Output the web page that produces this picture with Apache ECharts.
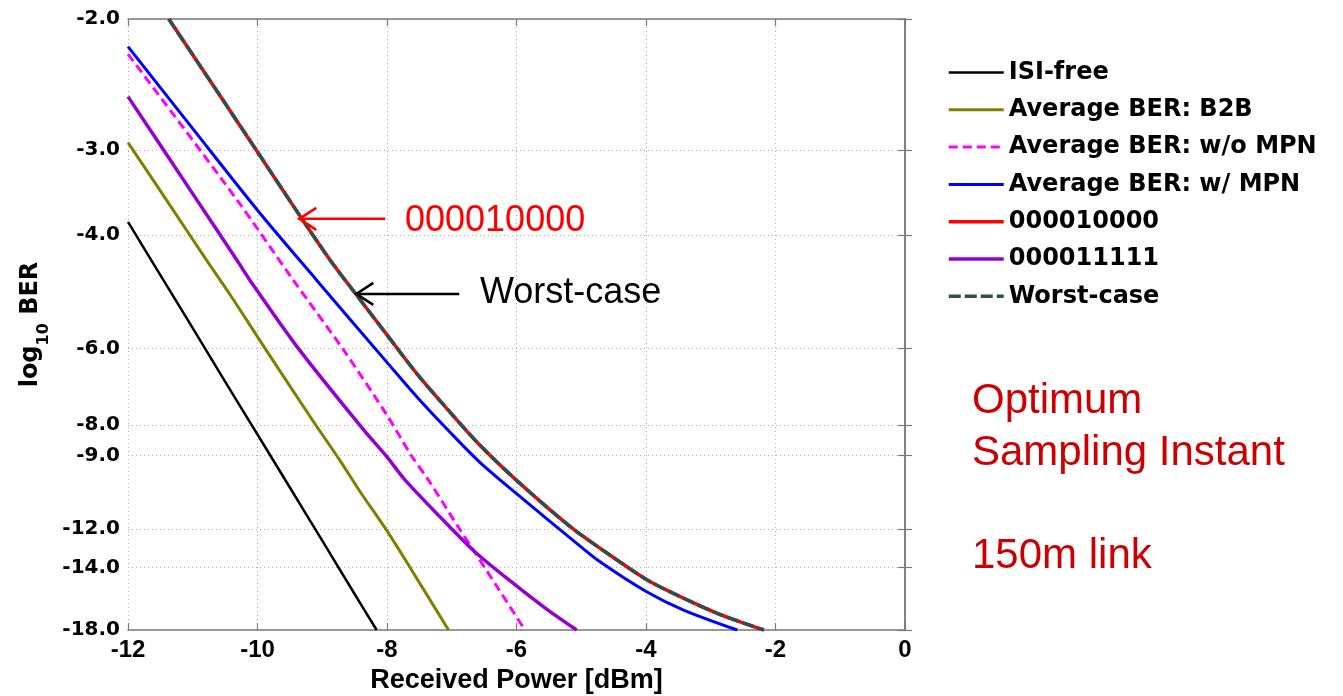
<!DOCTYPE html>
<html>
<head>
<meta charset="utf-8">
<script src="https://cdn.jsdelivr.net/npm/echarts@6.0.0/dist/echarts.min.js"></script>
<style>
html, body { margin: 0; padding: 0; background: #ffffff; }
#chart { width: 1343px; height: 696px; }
</style>
</head>
<body>
<div id="chart"></div>
<script>
// ---------------- data (x: received power in dBm, y: log10 BER) ----------------
const xMin = -12, xMax = 0, xStep = 2;
const yTickValues = [-2, -3, -4, -6, -8, -9, -12, -14, -18];
const yTickLabels = ['-2.0', '-3.0', '-4.0', '-6.0', '-8.0', '-9.0', '-12.0', '-14.0', '-18.0'];

const seriesNames = ['ISI-free', 'Average BER: B2B', 'Average BER: w/o MPN', 'Average BER: w/ MPN',
                     '000010000', '000011111', 'Worst-case'];

const isiFree = [[-12, -3.82], [-11.5, -4.60], [-11, -5.57], [-10.5, -6.79], [-10, -8.30],
                 [-9.5, -10.19], [-9, -12.57], [-8.5, -15.56], [-8.16, -18]];

const avgB2B = [[-12, -2.93], [-11.41, -3.54], [-10.79, -4.36], [-10.42, -4.94], [-10.0, -5.75],
                [-9.15, -7.86], [-8.73, -9.16], [-8.42, -10.34], [-8.0, -12.09], [-7.63, -14.07], [-7.05, -18]];

const avgWoMPN = [[-12, -2.22], [-10.32, -3.54], [-9.47, -4.65], [-8.65, -6.08], [-8.0, -7.71],
                  [-7.63, -8.98], [-7.36, -9.90], [-6.89, -11.95], [-6.65, -13.13], [-6.30, -15.11], [-5.87, -18]];

const avgWMPN = [[-12, -2.17], [-11, -2.80], [-10, -3.67], [-9.09, -4.68], [-8.0, -6.32], [-7.52, -7.23],
                 [-7.03, -8.22], [-6.57, -9.23], [-5.99, -10.46], [-5.07, -12.70], [-4.71, -13.67],
                 [-3.99, -15.42], [-3.42, -16.6], [-2.59, -18]];

const pattern000010000 = [[-11.37, -2.0], [-10.0, -3.02], [-9.37, -3.71], [-8.88, -4.36], [-8.47, -4.94],
                          [-8.0, -5.71], [-7.54, -6.59], [-7.18, -7.30], [-6.59, -8.59], [-5.99, -9.93],
                          [-5.17, -11.89], [-4.71, -12.95], [-3.98, -14.71], [-3.52, -15.63], [-2.90, -16.82], [-2.18, -18]];

const pattern000011111 = [[-12, -2.53], [-10.94, -3.54], [-10.32, -4.36], [-10.12, -4.68], [-9.37, -6.0],
                          [-8.37, -8.13], [-8.0, -9.05], [-7.72, -9.90], [-7.03, -11.90], [-6.61, -13.24],
                          [-6.0, -15.06], [-5.53, -16.55], [-5.07, -18]];

const worstCase = [[-11.37, -2.0], [-10.0, -3.02], [-9.37, -3.71], [-8.88, -4.36], [-8.47, -4.94],
                   [-8.0, -5.71], [-7.54, -6.59], [-7.18, -7.30], [-6.59, -8.59], [-5.99, -9.93],
                   [-5.17, -11.89], [-4.71, -12.95], [-3.98, -14.71], [-3.52, -15.63], [-2.90, -16.82], [-2.18, -18]];

const annotationLabels = ['000010000', 'Worst-case'];
const annotationTips = [[-9.37, -3.78], [-8.49, -4.92]];
const sideNoteLines = ['Optimum', 'Sampling Instant', '150m link'];

// ---------------- BER axis scale: 20*log10(Q), Q from BER ----------------
function lnErfc(z) {
  const t = 1 / (1 + 0.5 * z);
  const p = -z * z - 1.26551223 + t * (1.00002368 + t * (0.37409196 + t * (0.09678418 +
            t * (-0.18628806 + t * (0.27886807 + t * (-1.13520398 + t * (1.48851587 +
            t * (-0.82215223 + t * 0.17087277))))))));
  return Math.log(t) + p;
}
function log10BerFromQ(q) {
  return (Math.log(0.5) + lnErfc(q / Math.SQRT2)) / Math.LN10;
}
function qScale(log10Ber) {
  let lo = 0, hi = 20;
  for (let i = 0; i < 80; i++) {
    const mid = (lo + hi) / 2;
    if (log10BerFromQ(mid) > log10Ber) lo = mid; else hi = mid;
  }
  return 20 * Math.log10((lo + hi) / 2);
}
const yTickPos = yTickValues.map(qScale);
const yMinPos = yTickPos[0];
const yMaxPos = yTickPos[yTickPos.length - 1];
function yLabel(v) {
  let best = 0;
  for (let i = 1; i < yTickPos.length; i++) {
    if (Math.abs(yTickPos[i] - v) < Math.abs(yTickPos[best] - v)) best = i;
  }
  return yTickLabels[best];
}
const toXY = arr => arr.map(p => [p[0], qScale(p[1])]);

// ---------------- chart ----------------
const boxColor = '#7a7a7a';
const gridColor = '#b0b0b0';
const boldWide = 'DejaVu Sans';
const arial = 'Liberation Sans, Arial, sans-serif';

function mirrorY(position) {
  return {
    type: 'value', position: position, min: yMinPos, max: yMaxPos, inverse: true,
    axisLine: { show: true, lineStyle: { color: boxColor, width: 1.5 } },
    axisTick: { show: true, inside: true, length: 7, customValues: yTickPos, lineStyle: { color: boxColor, width: 1.2 } },
    axisLabel: position === 'left' ? {
      show: true, customValues: yTickPos, formatter: yLabel, margin: 8,
      fontFamily: boldWide, fontWeight: 'bold', fontSize: 20, color: '#000'
    } : { show: false },
    splitLine: position === 'left' ? { show: true, lineStyle: { color: gridColor, width: 1, type: [1, 3] } } : { show: false }
  };
}
function mirrorX(position) {
  return {
    type: 'value', position: position, min: xMin, max: xMax, interval: xStep,
    axisLine: { show: true, onZero: false, lineStyle: { color: boxColor, width: 1.5 } },
    axisTick: { show: true, inside: true, length: 7, lineStyle: { color: boxColor, width: 1.2 } },
    axisLabel: position === 'bottom' ? {
      show: true, margin: 8, fontFamily: arial, fontWeight: 'bold', fontSize: 24, color: '#000'
    } : { show: false },
    splitLine: position === 'bottom' ? { show: true, lineStyle: { color: gridColor, width: 1, type: [1, 3] } } : { show: false }
  };
}

const xBottom = mirrorX('bottom');
xBottom.name = 'Received Power [dBm]';
xBottom.nameLocation = 'middle';
xBottom.nameGap = 36;
xBottom.nameTextStyle = { fontFamily: arial, fontWeight: 'bold', fontSize: 27, color: '#000' };

const yLeft = mirrorY('left');
yLeft.name = '{a|log}{s|10}{a| BER}';
yLeft.nameLocation = 'middle';
yLeft.nameRotate = 90;
yLeft.nameGap = 78;
yLeft.nameTextStyle = {
  rich: {
    a: { fontFamily: boldWide, fontWeight: 'bold', fontSize: 24, color: '#000', lineHeight: 24, verticalAlign: 'top' },
    s: { fontFamily: boldWide, fontWeight: 'bold', fontSize: 16, color: '#000', lineHeight: 16, verticalAlign: 'top', padding: [17, 0, 0, 0] }
  }
};

const seriesData = [isiFree, avgB2B, avgWoMPN, avgWMPN, pattern000010000, pattern000011111, worstCase];
const seriesStyles = [
  { color: '#000000', width: 2.5, type: 'solid' },
  { color: '#808000', width: 3, type: 'solid' },
  { color: '#FF00FF', width: 3, type: [9, 5] },
  { color: '#0000FF', width: 3, type: 'solid' },
  { color: '#FF0000', width: 3.5, type: 'solid' },
  { color: '#9400D3', width: 3.5, type: 'solid' },
  { color: '#2F4F4F', width: 3.5, type: [12, 4] }
];

const option = {
  animation: false,
  backgroundColor: '#ffffff',
  grid: { left: 128, top: 19, width: 777, height: 611, outerBoundsMode: 'none', containLabel: false },
  xAxis: [xBottom, mirrorX('top')],
  yAxis: [yLeft, mirrorY('right')],
  legend: {
    orient: 'vertical', left: 947, top: 54, padding: 0,
    itemWidth: 55, itemHeight: 3, itemGap: 0.3,
    selectedMode: false,
    data: seriesNames,
    itemStyle: { opacity: 0 },
    lineStyle: { width: 'inherit' },
    textStyle: { fontFamily: boldWide, fontWeight: 'bold', fontSize: 24, color: '#000', lineHeight: 37 }
  },
  series: seriesData.map((d, i) => ({
    name: seriesNames[i],
    type: 'line',
    xAxisIndex: 0, yAxisIndex: 0,
    data: toXY(d),
    symbol: 'none', showSymbol: false,
    smooth: 0.3,
    clip: true,
    silent: true,
    emphasis: { disabled: true },
    itemStyle: { color: seriesStyles[i].color },
    lineStyle: { color: seriesStyles[i].color, width: seriesStyles[i].width, type: seriesStyles[i].type },
    z: 2 + i
  }))
};

const chart = echarts.init(document.getElementById('chart'), null, { renderer: 'canvas' });
chart.setOption(option);

// ---------------- annotations ----------------
const arrowColors = ['#FF0000', '#000000'];
const arrowLengths = [87, 104];
const labelAnchors = [[405, 221], [480, 293]];
const graphics = [];
annotationTips.forEach((t, i) => {
  const p = chart.convertToPixel({ seriesIndex: 0 }, [t[0], qScale(t[1])]);
  graphics.push({
    type: 'line', silent: true, z: 100,
    shape: { x1: p[0], y1: p[1], x2: p[0] + arrowLengths[i], y2: p[1] },
    style: { stroke: arrowColors[i], lineWidth: 2.5 }
  });
  graphics.push({
    type: 'polyline', silent: true, z: 100,
    shape: { points: [[p[0] + 18, p[1] - 11], [p[0] + 1, p[1]], [p[0] + 18, p[1] + 11]] },
    style: { stroke: arrowColors[i], lineWidth: 2.5, fill: null }
  });
  graphics.push({
    type: 'text', silent: true, z: 100, x: labelAnchors[i][0], y: labelAnchors[i][1],
    style: { text: annotationLabels[i], fontFamily: arial, fontSize: 36, fill: arrowColors[i],
             align: 'left', verticalAlign: 'middle' }
  });
});
const sideY = [401, 453, 556];
sideNoteLines.forEach((s, i) => {
  graphics.push({
    type: 'text', silent: true, z: 100, x: 972, y: sideY[i],
    style: { text: s, fontFamily: arial, fontSize: 42, fill: '#CC0000', align: 'left', verticalAlign: 'middle' }
  });
});
chart.setOption({ graphic: graphics });
</script>
</body>
</html>
